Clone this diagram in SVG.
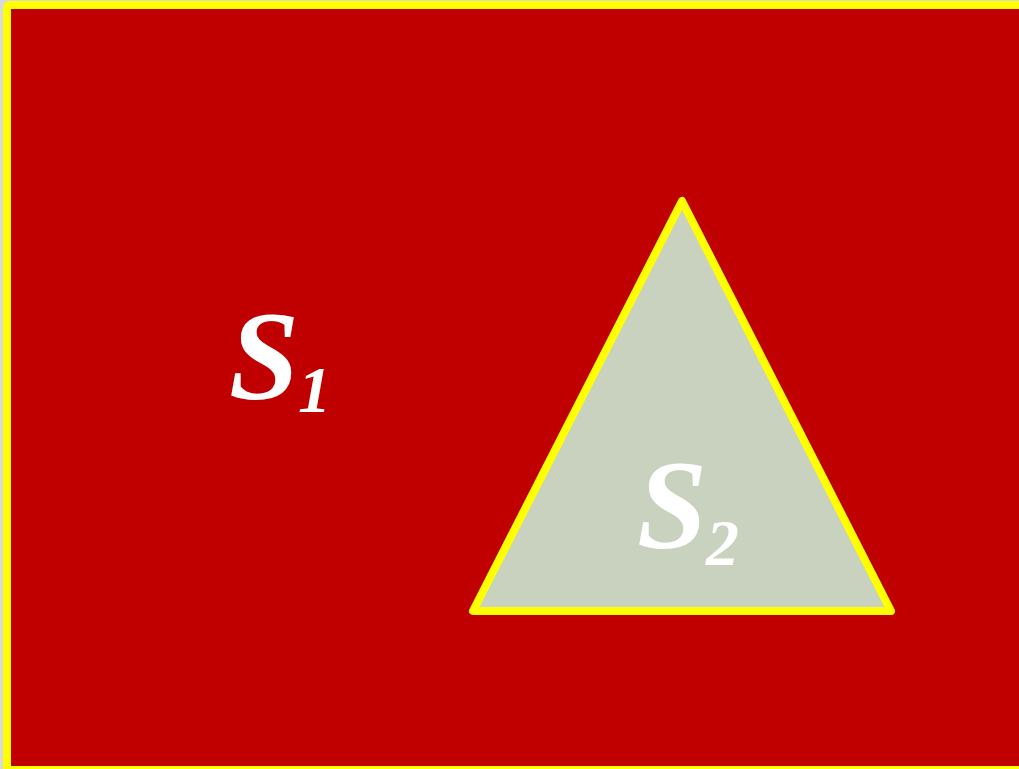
<svg xmlns="http://www.w3.org/2000/svg" width="1019" height="769" viewBox="0 0 1019 769">
<style>
.lbl{font-family:"Liberation Serif","DejaVu Serif",serif;font-style:italic;font-weight:bold;fill:#ffffff;}
.sub{font-size:66px;}
</style>
<rect x="0" y="0" width="1019" height="769" fill="#d9d9d9"/>
<g id="region-s1">
<rect x="7" y="5" width="1040" height="765" rx="3" fill="#c00000" stroke="#ffff00" stroke-width="8"/>
<text class="lbl" x="229" y="399" font-size="126">S<tspan class="sub" dx="-1" dy="13">1</tspan></text>
</g>
<g id="region-s2">
<polygon points="682,201 473,611 891,611" fill="#c9d2be" stroke="#ffff00" stroke-width="8" stroke-linejoin="round"/>
<text class="lbl" x="637" y="548" font-size="126">S<tspan class="sub" dx="-1" dy="17">2</tspan></text>
</g>
<g id="connectors"></g>
</svg>
